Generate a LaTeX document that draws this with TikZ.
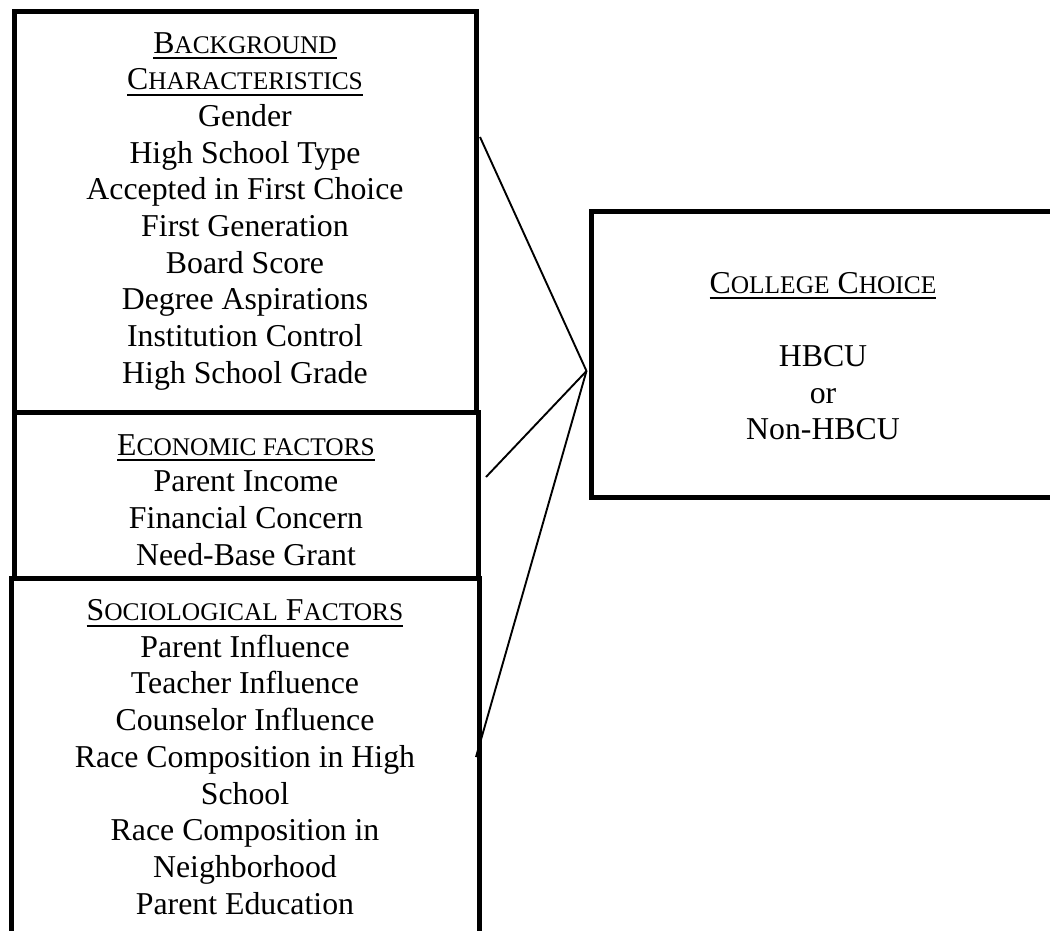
\documentclass[tikz,border=0pt]{standalone}
\usepackage{fontspec}
\setmainfont{Liberation Serif}
\newsavebox\ulbox
\newcommand\ulx[1]{\leavevmode\sbox\ulbox{#1}\rlap{\rule[-6.2pt]{\wd\ulbox}{2.2pt}}\usebox\ulbox}
\newcommand\smc[1]{{\fontsize{25.4pt}{36.7pt}\selectfont #1}}
\newcommand\blk[1]{\parbox[t]{440pt}{\centering #1}}
\begin{document}
\begin{tikzpicture}[x=1pt,y=-1pt,
  box/.style={draw, line width=5pt, rectangle, inner sep=0pt, outer sep=0pt},
  txt/.style={anchor=base, inner sep=0pt, outer sep=0pt, font=\fontsize{31.8pt}{36.7pt}\selectfont},
  link/.style={line width=1.9pt}]
\useasboundingbox (0,0) rectangle (1050,930);
\fill[white] (0,0) rectangle (1050,930);
\clip (0,0) rectangle (1050,930);

% boxes
\node[box, minimum width=462pt, minimum height=401pt] (bg) at (245,211.5) {};
\node[box, minimum width=464pt, minimum height=166pt] (eco) at (246,495) {};
\node[box, minimum width=468pt, minimum height=362pt] (soc) at (245,759) {};
\node[box, minimum width=465pt, minimum height=286pt] (cc) at (823.5,354) {};

% texts
\node[txt] (bgtext) at (245,53) {\blk{\ulx{B\smc{ACKGROUND}}\\
  \ulx{C\smc{HARACTERISTICS}}\\
  Gender\\ High School Type\\ Accepted in First Choice\\ First Generation\\
  Board Score\\ Degree Aspirations\\ Institution Control\\ High School Grade}};
\node[txt] (ecotext) at (246,455) {\blk{\ulx{E\smc{CONOMIC FACTORS}}\\
  Parent Income\\ Financial Concern\\ Need-Base Grant}};
\node[txt] (soctext) at (245,620.5) {\blk{\ulx{S\smc{OCIOLOGICAL} F\smc{ACTORS}}\\
  Parent Influence\\ Teacher Influence\\ Counselor Influence\\
  Race Composition in High\\ School\\ Race Composition in\\ Neighborhood\\ Parent Education}};
\node[txt] (cctext) at (823,293) {\blk{\ulx{C\smc{OLLEGE} C\smc{HOICE}}\\[36.7pt]
  HBCU\\ or\\ Non-HBCU}};

% connectors
\coordinate (meet) at (586.5,371);
\coordinate (s1) at (480,137);
\coordinate (s2) at (486,477);
\coordinate (s3) at (476,757);
\draw[link] (s1) -- (meet);
\draw[link] (s2) -- (meet);
\draw[link] (s3) -- (meet);
\end{tikzpicture}
\end{document}
